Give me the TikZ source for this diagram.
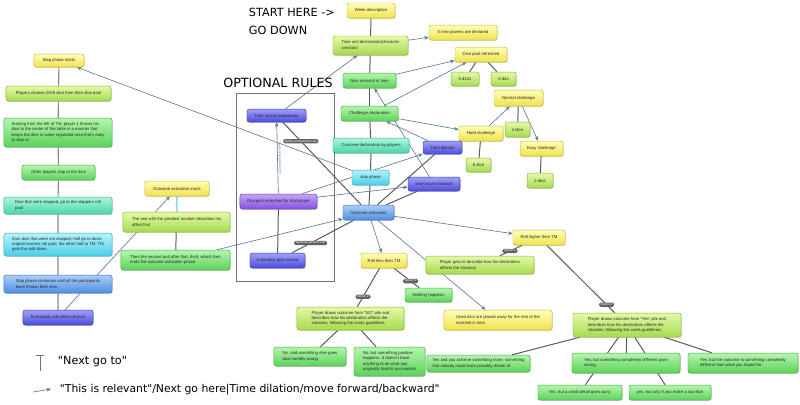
\documentclass[tikz,border=0pt]{standalone}
\usepackage{fontspec}
\setmainfont{Liberation Sans}
\newfontfamily\handfont{DejaVu Sans}
\usetikzlibrary{arrows.meta,shadows,backgrounds}
\definecolor{yelTop}{HTML}{FFFFB8}
\definecolor{yelBot}{HTML}{EFE24A}
\definecolor{yelLine}{HTML}{C8B838}
\definecolor{limTop}{HTML}{E4FAA8}
\definecolor{limBot}{HTML}{A6DA4E}
\definecolor{limLine}{HTML}{86B436}
\definecolor{grnTop}{HTML}{B4F6AC}
\definecolor{grnBot}{HTML}{5CD25A}
\definecolor{grnLine}{HTML}{46A846}
\definecolor{tealTop}{HTML}{ACF6DE}
\definecolor{tealBot}{HTML}{4AD6A6}
\definecolor{tealLine}{HTML}{36AE86}
\definecolor{cyanTop}{HTML}{B4F4FC}
\definecolor{cyanBot}{HTML}{4ACEE6}
\definecolor{cyanLine}{HTML}{36A6C6}
\definecolor{bluTop}{HTML}{ACCEF8}
\definecolor{bluBot}{HTML}{4E8EE2}
\definecolor{bluLine}{HTML}{3A6EBE}
\definecolor{purTop}{HTML}{A0A0FA}
\definecolor{purBot}{HTML}{4C4CDC}
\definecolor{purLine}{HTML}{3636AE}
\definecolor{vioTop}{HTML}{C4A4F8}
\definecolor{vioBot}{HTML}{8452DE}
\definecolor{vioLine}{HTML}{6440B4}
\definecolor{relBlue}{HTML}{5A7A98}
\definecolor{actLine}{HTML}{8FD8F0}
\newcommand{\flowfont}{\fontsize{3}{3.8}\selectfont}
\newcommand{\flowbox}[6]{%
  \node[#1, minimum width=#4cm, minimum height=#5cm] (#2) at (#3) {#6};}
\tikzset{
  box/.style={rounded corners=1.6pt, line width=0.35pt, inner sep=1.2pt, align=left,
    font=\flowfont, text=black!85,
    drop shadow={shadow xshift=0.5pt, shadow yshift=-0.6pt, opacity=0.3}},
  ynode/.style={box, draw=yelLine, top color=yelTop, bottom color=yelBot},
  lnode/.style={box, draw=limLine, top color=limTop, bottom color=limBot},
  gnode/.style={box, draw=grnLine, top color=grnTop, bottom color=grnBot},
  tnode/.style={box, draw=tealLine, top color=tealTop, bottom color=tealBot},
  cnode/.style={box, draw=cyanLine, top color=cyanTop, bottom color=cyanBot},
  bnode/.style={box, draw=bluLine, top color=bluTop, bottom color=bluBot},
  pnode/.style={box, draw=purLine, top color=purTop, bottom color=purBot},
  vnode/.style={box, draw=vioLine, top color=vioTop, bottom color=vioBot},
  nextto/.style={draw=black!65, line width=0.7pt},
  colline/.style={draw=black!45, line width=0.8pt},
  relev/.style={draw=relBlue, line width=0.45pt, -{Stealth[length=3.2pt,width=2.6pt]}},
  pill/.style={fill=black!62, text=white, rounded corners=1.1pt, inner sep=0.5pt,
    inner xsep=1.2pt, font=\fontsize{2.2}{2.4}\selectfont},
  hand/.style={font=\handfont\fontsize{8}{9}\selectfont, text=black},
}

\begin{document}
\begin{tikzpicture}[x=0.025cm, y=-0.025cm]
  \useasboundingbox (0,0) rectangle (800,404);

  % headings
  \node[hand, anchor=west] (starthere) at (244,12) {START HERE ->};
  \node[hand, anchor=west] (godown) at (244,30) {GO DOWN};
  \node[hand, font=\handfont\fontsize{9}{10}\selectfont] (optrules) at (278,83) {OPTIONAL RULES};

  % main spine
  \flowbox{ynode}{week}{371,10.5}{1.2}{0.375}{Week description}
  \flowbox{lnode}{timeunit}{370.5,45.5}{1.875}{0.475}{Time unit declaration(character\\creation)}
  \flowbox{gnode}{moment}{369.5,80.5}{1.325}{0.375}{New moment in time}
  \flowbox{gnode}{challenge}{369.5,113.5}{1.425}{0.375}{Challenge declaration}
  \flowbox{tnode}{outdecl}{371,145.5}{1.9}{0.375}{Outcome declaration by players}
  \flowbox{cnode}{slapph}{370.5,177.5}{0.925}{0.375}{slap phase}
  \flowbox{bnode}{outact}{368.5,212.5}{1.275}{0.375}{Outcome activation}

  % dice and challenges
  \flowbox{ynode}{powers}{463,32.5}{1.7}{0.375}{5 new powers are declared}
  \flowbox{ynode}{dicepool}{481,54.5}{1.3}{0.375}{Dice pool refreshed}
  \flowbox{lnode}{dtwelve}{465,79}{0.7}{0.35}{5 d12s}
  \flowbox{lnode}{dfour}{503.5,79}{0.625}{0.35}{5 d4s}
  \flowbox{ynode}{normal}{518.5,98}{1.225}{0.4}{Normal challenge}
  \flowbox{lnode}{fourdice}{517.5,129.5}{0.625}{0.375}{4 dice}
  \flowbox{ynode}{hard}{481,133.5}{1.1}{0.375}{Hard challenge}
  \flowbox{ynode}{easy}{541.5,148.5}{1.075}{0.375}{Easy challenge}
  \flowbox{lnode}{sixdice}{478.5,165}{0.625}{0.35}{6 dice}
  \flowbox{lnode}{twodice}{540,180.5}{0.65}{0.375}{2 dice}
  \flowbox{pnode}{dilation}{442.5,147.5}{0.975}{0.325}{Time dilation}
  \flowbox{pnode}{forward}{434,184}{1.3}{0.35}{time moves forward}

  % rolls
  \flowbox{ynode}{higher}{539,237.5}{1.3}{0.375}{Roll higher then TM}
  \flowbox{ynode}{lower}{384,260.5}{1.15}{0.375}{Roll less then TM}
  \flowbox{lnode}{describe}{480,265}{2.7}{0.45}{Player gets to describe how his declaration\\affects the situation}
  \flowbox{gnode}{nothing}{428.5,295}{1.175}{0.35}{Nothing happens}
  \flowbox{ynode}{useddice}{498,320}{2.7}{0.5}{Used dice are placed away for the rest of the\\moment in time}
  \flowbox{lnode}{drawno}{350.5,318.5}{2.675}{0.575}{Player draws outcome from "NO" pile and\\describes how his declaration affects the\\situation, following the cards guidelines}
  \flowbox{gnode}{noand}{310,356.5}{1.8}{0.475}{No, and something else goes\\also horribly wrong}
  \flowbox{gnode}{nobut}{389.5,361.5}{1.775}{0.725}{No, but something positive\\happens. It doesn't have\\anything to do what you\\originally tried to accomplish}
  \flowbox{lnode}{drawyes}{627,325}{2.7}{0.6}{Player draws outcome from "Yes" pile and\\describes how his declaration affects the\\situation, following the cards guidelines}
  \flowbox{gnode}{yesand}{478.5,363.5}{2.575}{0.425}{Yes and you achieve something more, something\\that nobody could even possibly dream of}
  \flowbox{gnode}{yesdiff}{626,363}{2.7}{0.5}{Yes, but something completely different goes\\wrong.}
  \flowbox{gnode}{yesoutcome}{743,363}{2.75}{0.5}{Yes, but the outcome is something completely\\different then what you hoped for}
  \flowbox{gnode}{smalldetail}{580,392.5}{2.1}{0.375}{Yes, but a small detail goes awry.}
  \flowbox{gnode}{sacrifice}{670,392.5}{2.05}{0.375}{yes, but only if you make a sacrifice}

  % slap phase column
  \flowbox{ynode}{slapstart}{59,60.5}{1.25}{0.325}{Slap phase starts}
  \flowbox{lnode}{choose}{58.5,93.5}{2.625}{0.375}{Players choose 2/4/6 dice from their dice pool}
  \flowbox{gnode}{throws}{58,132.5}{2.7}{0.725}{Starting from the left of TM, player 1 throws his\\dice to the center of the table in a manner that\\keeps the dice in some regulated area that's easy\\to slap at.}
  \flowbox{gnode}{slapat}{58.5,172.5}{1.825}{0.375}{Other players slap at the dice}
  \flowbox{tnode}{slapped}{58,205.5}{2.7}{0.425}{Dice that were slapped, go to the slappers roll\\pool}
  \flowbox{cnode}{notslapped}{58,244.5}{2.7}{0.575}{from dice that were not slapped, half go to dices\\original owners roll pool, the other half to TM. TM\\gets the odd dices.}
  \flowbox{bnode}{continues}{58,284}{2.7}{0.45}{Slap phase continues until all the participants\\have thrown their dice.}
  \flowbox{pnode}{everybody}{58,317.5}{1.75}{0.375}{Everybody rolls their roll pool}

  % outcome activation column
  \flowbox{ynode}{actstart}{177,188.5}{1.6}{0.375}{Outcome activation starts}
  \flowbox{lnode}{greatest}{176.5,222}{2.675}{0.5}{The one with the greatest number describes his\\affect first}
  \flowbox{gnode}{second}{175.5,260}{2.725}{0.5}{Then the second and after that, third, which then\\ends the outcome activation phase.}

  % optional rules
  \flowbox{pnode}{backwards}{276.5,115.5}{1.475}{0.325}{Time moves backwards}
  \flowbox{vnode}{refreshed}{278.5,201.5}{1.925}{0.375}{Dicepool refreshed for that player}
  \flowbox{pnode}{paradox}{277.5,260.5}{1.375}{0.375}{A paradox gets solved}

  % legend
  \coordinate (teetop) at (40,355);
  \coordinate (teefoot) at (40,371);
  \coordinate (legtail) at (33,392);
  \coordinate (leghead) at (51,389);
  \node[hand, anchor=west] (legnext) at (53,362) {"Next go to"};
  \node[hand, anchor=west, font=\handfont\fontsize{7.7}{9}\selectfont] (legrel) at (55,390)
    {"This is relevant"/Next go here|Time dilation/move forward/backward"};

  \begin{scope}[on background layer]
    \fill[white] (0,0) rectangle (800,404);
    \draw[black!55, line width=0.5pt] (236,93) rectangle (334,281);

    % next go to
    \draw[nextto] (week) -- (timeunit) -- (moment) -- (challenge) -- (outdecl) -- (slapph) -- (outact);
    \draw[nextto] (dicepool) -- (dtwelve);
    \draw[nextto] (dicepool) -- (dfour);
    \draw[nextto] (normal) -- (fourdice);
    \draw[nextto] (hard) -- (sixdice);
    \draw[nextto] (easy) -- (twodice);
    \draw[nextto] (outact) -- (dilation);
    \draw[nextto] (outact) -- (forward);
    \draw[nextto] (backwards) -- node[pill, pos=0.23] (ttpill) {Optional timetravel rule} (outact);
    \draw[nextto] (refreshed) -- (paradox);
    \draw[nextto] (paradox) -- node[pill, pos=0.3] (prpill) {Optional paradox rule} (outact);
    \draw[nextto] (higher) -- node[pill, pos=0.55] (hionepill) {Option 1} (describe);
    \draw[nextto] (higher) -- node[pill, pos=0.88] (hitwopill) {Option 2} (drawyes);
    \draw[nextto] (lower) -- node[pill, pos=0.66] (loonepill) {Option 1} (nothing);
    \draw[nextto] (lower) -- node[pill, pos=0.74] (lotwopill) {Option 2} (drawno);
    \draw[nextto] (drawno) -- (noand);
    \draw[nextto] (drawno) -- (nobut);
    \foreach \kid in {yesand,yesdiff,smalldetail,sacrifice,yesoutcome}
      \draw[nextto] (drawyes) -- (\kid);
    \draw[colline] (slapstart) -- (choose) -- (throws) -- (slapat) -- (slapped) -- (notslapped) -- (continues) -- (everybody);
    \draw[actLine, line width=1.3pt] (actstart) -- (greatest);
    \draw[nextto] (greatest) -- (second);

    % this is relevant / next go here
    \draw[relev] (timeunit) -- (powers);
    \draw[relev] (moment) -- (dicepool);
    \draw[relev] (challenge) -- (dicepool);
    \draw[relev] (challenge) -- (hard);
    \draw[relev] (hard) -- (normal);
    \draw[relev] (normal) -- (easy);
    \draw[relev] (backwards) -- (timeunit);
    \draw[relev] (dilation) -- (challenge);
    \draw[relev] (forward) -- (moment);
    \draw[relev] (refreshed) -- node[midway, sloped, above, inner sep=0.4pt, text=relBlue,
      font=\fontsize{2.2}{2.4}\selectfont] (ttvert) {Optional timetravel rule} (backwards);
    \draw[relev] (refreshed) -- (dilation);
    \draw[relev] (refreshed) -- (forward);
    \draw[relev] (slapph) -- (slapstart);
    \draw[relev] (everybody) -- (actstart);
    \draw[relev] (second) -- (outact);
    \draw[relev] (outact) -- (higher);
    \draw[relev] (outact) -- (lower);
    \draw[relev] (outact) -- (useddice);

    % legend marks
    \draw[black!55, line width=0.6pt, -{Bar[width=6pt]}] (teefoot) -- (teetop);
    \draw[relev] (legtail) -- (leghead);
  \end{scope}
\end{tikzpicture}
\end{document}
